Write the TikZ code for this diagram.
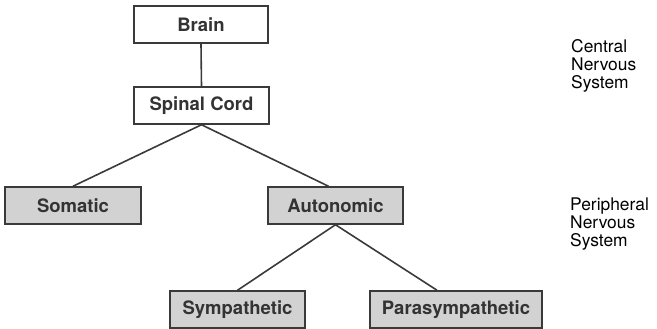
\documentclass[tikz,border=0pt]{standalone}
\usepackage{fontspec}
\setmainfont{TeX Gyre Heros}
\definecolor{boxline}{HTML}{3A3A3A}
\definecolor{boxfill}{HTML}{D2D2D2}
\definecolor{inktext}{HTML}{333333}
\begin{document}
\begin{tikzpicture}[x=1pt,y=1pt,
  cnsbox/.style={draw=boxline, line width=1.5pt, fill=white, inner sep=0pt,
    minimum height=37pt, text=inktext, font=\fontsize{18.5}{20}\selectfont\bfseries},
  pnsbox/.style={cnsbox, fill=boxfill},
  link/.style={draw=boxline, line width=1.6pt},
  sidelabel/.style={anchor=base west, inner sep=0pt, text=black, font=\fontsize{17.4}{18.5}\selectfont}]
\useasboundingbox (0,0) rectangle (657,329);
\node[cnsbox, minimum width=134pt] (brain) at (201,304.5) {Brain};
\node[cnsbox, minimum width=135pt] (spinal) at (201.5,223.5) {Spinal Cord};
\node[pnsbox, minimum width=136pt] (somatic) at (73,123.5) {Somatic};
\node[pnsbox, minimum width=135pt] (auto) at (335.5,123.5) {Autonomic};
\node[pnsbox, minimum width=135pt] (symp) at (237.5,19.5) {Sympathetic};
\node[pnsbox, minimum width=172pt] (para) at (456,19.5) {Parasympathetic};
\draw[link] (brain.south) -- (spinal.north);
\draw[link] (spinal.south) -- (somatic.north);
\draw[link] (spinal.south) -- ([xshift=-7pt]auto.north);
\draw[link] (auto.south) -- (symp.north);
\draw[link] (auto.south) -- ([xshift=-19pt]para.north);
\node[sidelabel] (c1) at (571,276) {Central};
\node[sidelabel] (c2) at (571,258) {Nervous};
\node[sidelabel] (c3) at (571,240) {System};
\node[sidelabel] (p1) at (570,118) {Peripheral};
\node[sidelabel] (p2) at (570,100) {Nervous};
\node[sidelabel] (p3) at (570,82) {System};
\end{tikzpicture}
\end{document}
